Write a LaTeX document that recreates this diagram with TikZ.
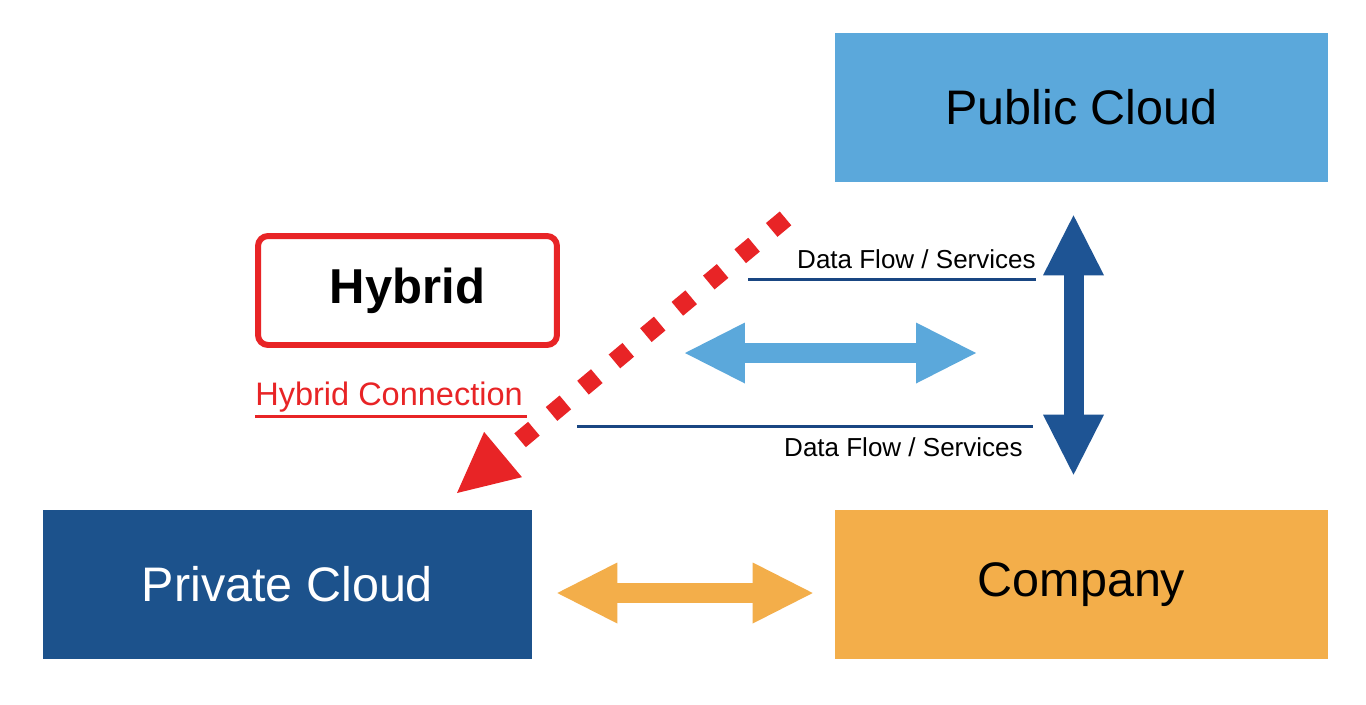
\documentclass[tikz,border=0pt]{standalone}
\usepackage{fontspec}
\setmainfont{Liberation Sans}
\usetikzlibrary{arrows.meta}
\usetikzlibrary{positioning}

\definecolor{publicblue}{RGB}{91,168,219}
\definecolor{privateblue}{RGB}{28,82,140}
\definecolor{linkblue}{RGB}{30,84,148}
\definecolor{companyorange}{RGB}{243,174,74}
\definecolor{hybridred}{RGB}{232,36,38}
\definecolor{flownavy}{RGB}{25,70,130}

\tikzset{
  cloudbox/.style={minimum width=9.86cm, minimum height=2.98cm, inner sep=0pt,
    font=\fontsize{27.6}{32}\selectfont},
  fatarrow/.style={line width=0.4cm,
    {Triangle[length=1.2cm,width=1.22cm,line width=0pt]}-{Triangle[length=1.2cm,width=1.22cm,line width=0pt]}},
  flowline/.style={flownavy, line width=1.7pt},
  flowtext/.style={inner sep=0pt, font=\fontsize{14.8}{17}\selectfont}
}

\begin{document}
\begin{tikzpicture}[x=0.02cm,y=-0.02cm]
\fill[white] (0,0) rectangle (1366,704);
\useasboundingbox (0,0) rectangle (1366,704);

\node[cloudbox, fill=publicblue] (public) at (1081.5,107.5) {Public Cloud};
\node[cloudbox, fill=privateblue, text=white, minimum width=9.78cm] (private) at (287.5,584.5) {Private Cloud};
\node[cloudbox, fill=companyorange] (company) at (1081.5,584.5) {Company};

\node[draw=hybridred, line width=3.4pt, rounded corners=0.2cm, minimum width=5.98cm, minimum height=2.18cm,
  font=\fontsize{27.9}{32}\selectfont\bfseries] (hybrid) at (407.5,290.5) {Hybrid};
\node[anchor=base west, inner sep=0pt, text=hybridred, font=\fontsize{18.5}{22}\selectfont] (hyblabel) at (255,405) {Hybrid Connection};
\draw[hybridred, line width=1.7pt] ([yshift=-0.08cm]hyblabel.south west) -- ([yshift=-0.08cm,xshift=0.08cm]hyblabel.south east);

\node[flowtext, anchor=base east] (flowtop) at (1036,268) {Data Flow / Services};
\node[flowtext, anchor=base east] (flowbot) at (1023,456) {Data Flow / Services};
\coordinate (flowtopleft) at (748,279);
\coordinate (flowbotleft) at (577,426);
\coordinate (flowbotright) at (1033,426);
\draw[flowline] (flowtopleft) -- (flowtopleft -| flowtop.east);
\draw[flowline] (flowbotleft) -- (flowbotright);

\coordinate (swapleft) at (685,353);
\coordinate (swapright) at (976,353);
\draw[fatarrow, publicblue] (swapleft) -- (swapright);

\draw[fatarrow, linkblue, shorten <=0.66cm, shorten >=0.7cm]
  ([xshift=-0.16cm]public.south) -- ([xshift=-0.16cm]company.north);
\draw[fatarrow, companyorange, shorten <=0.5cm, shorten >=0.44cm]
  ([yshift=-0.17cm]private.east) -- ([yshift=-0.17cm]company.west);

\coordinate (redstart) at (785.5,218.4);
\coordinate (redtip) at (457,493);
\draw[hybridred, line width=0.36cm, dash pattern=on 0.36cm off 0.46cm,
  -{Triangle[length=1.2cm,width=1.18cm,line width=0pt]}] (redstart) -- (redtip);
\end{tikzpicture}
\end{document}
